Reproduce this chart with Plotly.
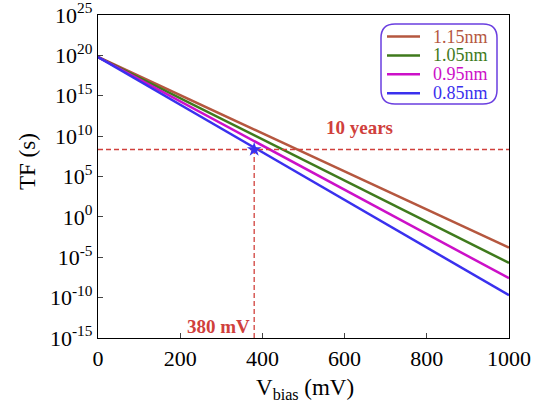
import plotly.graph_objects as go

# Data
v_bias = [0, 1000]                     # mV
labels = ["1.15nm", "1.05nm", "0.95nm", "0.85nm"]
log_tf = {                             # log10(TF / s) at 0 mV and 1000 mV
    "1.15nm": [19.8, -3.8],
    "1.05nm": [19.8, -5.7],
    "0.95nm": [19.8, -7.6],
    "0.85nm": [19.8, -9.7],
}
colors = {"1.15nm": "#b5573f", "1.05nm": "#3f7a1c", "0.95nm": "#cc10c8", "0.85nm": "#3a30ee"}

ten_years_tf = 2.2e8                   # s
crit_v = 380                           # mV
y_tick_exp = [25, 20, 15, 10, 5, 0, -5, -10, -15]
x_ticks = [0, 200, 400, 600, 800, 1000]

FONT = "Liberation Serif"
ANN = "#d0403c"
W, H = 534, 405
L, R, T, B = 98, 25, 15, 67
PW, PH = W - L - R, H - T - B


def px_x(p):
    return (p - L) / PW


def px_y(p):
    return (H - B - p) / PH


fig = go.Figure()
for name in labels:
    fig.add_trace(go.Scatter(
        x=v_bias, y=[10.0 ** e for e in log_tf[name]], mode="lines",
        line=dict(color=colors[name], width=2.5), name=name, showlegend=False,
    ))

# reference lines
fig.add_trace(go.Scatter(x=[v_bias[0], v_bias[-1]], y=[ten_years_tf, ten_years_tf], mode="lines",
                         line=dict(color=ANN, width=1.3, dash="5px,3px"), showlegend=False, hoverinfo="skip"))
fig.add_trace(go.Scatter(x=[crit_v, crit_v], y=[10.0 ** y_tick_exp[-1], ten_years_tf], mode="lines",
                         line=dict(color=ANN, width=1.3, dash="5px,3px"), showlegend=False, hoverinfo="skip"))
fig.add_trace(go.Scatter(x=[crit_v], y=[ten_years_tf], mode="markers",
                         marker=dict(symbol="star", size=11, color=colors["0.85nm"]),
                         showlegend=False, hoverinfo="skip"))

fig.add_annotation(x=637, y=11.1, text="<b>10 years</b>", showarrow=False,
                   font=dict(family=FONT, size=19, color=ANN))
fig.add_annotation(x=292, y=-13.6, text="<b>380 mV</b>", showarrow=False,
                   font=dict(family=FONT, size=19, color=ANN))

# rounded legend box
x0, x1, y0, y1 = px_x(381), px_x(497), px_y(104), px_y(24)
rx, ry = 14 / PW, 14 / PH
path = (f"M {x0+rx},{y1} L {x1-rx},{y1} Q {x1},{y1} {x1},{y1-ry} L {x1},{y0+ry} "
        f"Q {x1},{y0} {x1-rx},{y0} L {x0+rx},{y0} Q {x0},{y0} {x0},{y0+ry} "
        f"L {x0},{y1-ry} Q {x0},{y1} {x0+rx},{y1} Z")
fig.add_shape(type="path", path=path, xref="paper", yref="paper",
              line=dict(color="#6a3ee0", width=1.5))

# legend entries
for i, name in enumerate(labels):
    yy = px_y(36.5 + 18.9 * i)
    fig.add_shape(type="line", xref="paper", yref="paper", x0=px_x(387), x1=px_x(420),
                  y0=yy, y1=yy, line=dict(color=colors[name], width=2.5))
    fig.add_annotation(xref="paper", yref="paper", x=px_x(431), y=yy, text=name,
                       showarrow=False, xanchor="left", yanchor="middle",
                       font=dict(family=FONT, size=18, color=colors[name]))

# axis titles
fig.add_annotation(xref="paper", yref="paper", x=px_x(305), y=px_y(389),
                   text="V<sub>bias</sub> (mV)", showarrow=False, xanchor="center", yanchor="middle",
                   font=dict(family=FONT, size=23, color="black"))
fig.add_annotation(xref="paper", yref="paper", x=px_x(27), y=px_y(162),
                   text="TF (s)", showarrow=False, textangle=-90, xanchor="center", yanchor="middle",
                   font=dict(family=FONT, size=23, color="black"))

fig.update_layout(
    width=W, height=H,
    margin=dict(l=L, r=R, t=T, b=B),
    paper_bgcolor="white", plot_bgcolor="white",
    font=dict(family=FONT, size=22, color="black"),
    showlegend=False,
    xaxis=dict(range=[0, 1000], tickvals=x_ticks, ticks="inside", ticklen=5,
               showline=True, linecolor="black", linewidth=1.2, mirror=True,
               showgrid=False, zeroline=False, automargin=False, ticklabeloverflow="allow"),
    yaxis=dict(type="log", range=[-15.001, 25.001], tickvals=[10.0 ** e for e in y_tick_exp],
               ticktext=[f"10<sup>{e}</sup>" for e in y_tick_exp],
               ticks="inside", ticklen=5,
               showline=True, linecolor="black", linewidth=1.2, mirror=True,
               showgrid=False, zeroline=False, automargin=False, ticklabeloverflow="allow"),
)

fig.write_html("out.html", config={"displayModeBar": False},
               post_script="document.body.style.margin='0';")
